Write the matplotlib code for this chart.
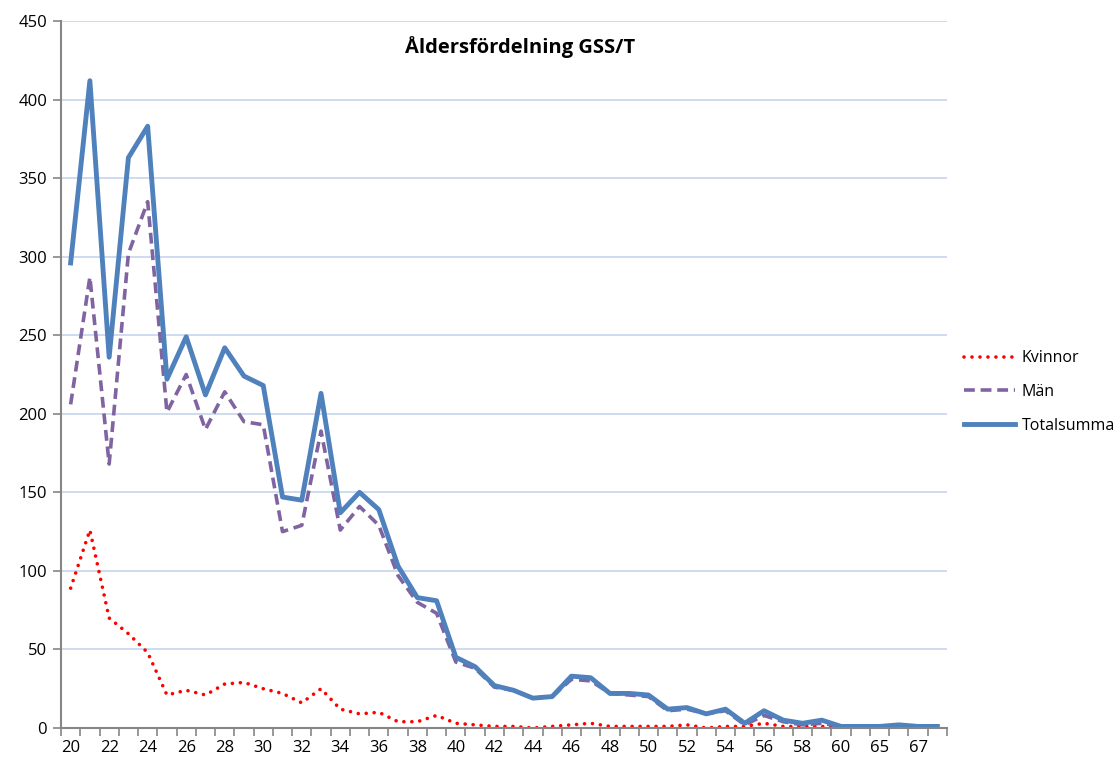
import matplotlib
matplotlib.use("Agg")
import matplotlib.pyplot as plt
import numpy as np

ages = ["20","21","22","23","24","25","26","27","28","29","30","31","32","33","34","35","36","37","38","39",
        "40","41","42","43","44","45","46","47","48","49","50","51","52","53","54","55","56","57","58","59",
        "60","62","65","66","67","68"]
kvinnor = [89,126,70,60,48,21,24,21,28,29,25,22,16,25,12,9,10,4,4,8,
           3,2,1,1,0,1,2,3,1,1,1,1,2,0,1,1,3,1,1,1,
           0,0,0,1,0,0]
man = [206,287,168,302,335,201,225,190,214,195,193,125,129,189,126,141,129,97,80,73,
       42,38,26,24,19,20,31,30,22,21,20,11,12,9,11,2,8,4,2,3,
       1,1,1,1,1,1]
total = [296,412,236,363,383,222,249,212,242,224,218,147,145,213,137,150,139,103,83,81,
         45,39,27,24,19,20,33,32,22,22,21,12,13,9,12,3,11,5,3,5,
         1,1,1,2,1,1]

plt.rcParams['font.family'] = ['Open Sans', 'DejaVu Sans']

fig = plt.figure(figsize=(11.2, 7.65), dpi=100)
ax = fig.add_axes([61/1120, 1-728/765, (947-61)/1120, (728-21)/765])

x = np.arange(len(ages))
ax.plot(x, kvinnor, color='#FF0000', lw=2.6, linestyle=(0, (0.01, 2.2)), dash_capstyle='round', label='Kvinnor')
ax.plot(x, man, color='#8064A2', lw=2.6, linestyle=(0, (3, 1.6)), label='Män')
ax.plot(x, total, color='#4F81BD', lw=3.5, label='Totalsumma')

ax.set_xlim(-0.5, len(ages) - 0.5)
ax.set_ylim(0, 450)
ax.set_yticks(np.arange(0, 451, 50))
ax.yaxis.grid(True, color='#C6D5EC', lw=1.2)
ax.set_axisbelow(True)

ax.set_xticks(x[::2])
ax.set_xticklabels(ages[::2])
ax.set_xticks(np.arange(-0.5, len(ages), 1), minor=True)
ax.tick_params(axis='x', which='major', length=0, pad=9, labelsize=12)
ax.tick_params(axis='x', which='minor', length=6, color='#868686', width=1.2)
ax.tick_params(axis='y', length=6, color='#868686', width=1.2, labelsize=12, pad=4)

for s in ['top', 'right']:
    ax.spines[s].set_visible(False)
for s in ['left', 'bottom']:
    ax.spines[s].set_color('#868686')
    ax.spines[s].set_linewidth(1.5)

fig.text(520/1120, 1-47/765, 'Åldersfördelning GSS/T', ha='center', va='center',
         fontsize=14.5, fontweight='bold')

leg = fig.legend(loc='upper left', bbox_to_anchor=(950/1120, 1-336/765), frameon=False,
                 fontsize=11.5, handlelength=3.2, labelspacing=1.1, handletextpad=0.4)

fig.savefig('out.png', dpi=100)
